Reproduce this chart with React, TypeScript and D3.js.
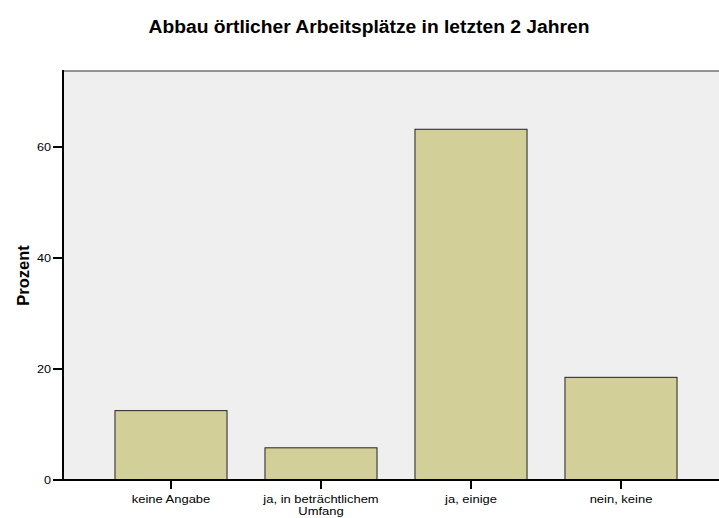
import React from "react";
import * as d3 from "d3";

const categories = ["keine Angabe", "ja, in beträchtlichem Umfang", "ja, einige", "nein, keine"];
const labelLines = [["keine Angabe"], ["ja, in beträchtlichem", "Umfang"], ["ja, einige"], ["nein, keine"]];
const values = [12.5, 5.8, 63.2, 18.5];
const yTicks = [0, 20, 40, 60];

export default function App() {
  const W = 719, H = 518;
  const left = 63, top = 71, bottom = 480, right = 719;
  const x = d3.scaleBand<string>().domain(categories).range([96, 696]).paddingInner(0.253).paddingOuter(0.1265);
  const y = d3.scaleLinear().domain([0, 73.7]).range([bottom, top]);
  const font = "Arial, 'Liberation Sans', sans-serif";
  return (
    <svg width={W} height={H} style={{ position: "absolute", left: 0, top: 0 }}>
      <rect x={0} y={0} width={W} height={H} fill="#fff" />
      <text transform="translate(369, 33) scale(1.07, 1)" textAnchor="middle" fontFamily={font} fontWeight="bold" fontSize={18}>
        Abbau örtlicher Arbeitsplätze in letzten 2 Jahren
      </text>
      <rect x={left} y={top} width={right - left} height={bottom - top} fill="#efefef" />
      <line x1={left} x2={right} y1={top} y2={top} stroke="#333" strokeWidth={1} />
      {categories.map((c, i) => (
        <rect key={c} x={x(c)} y={y(values[i])} width={x.bandwidth()} height={bottom - y(values[i])}
          fill="#d3cf99" stroke="#222" strokeWidth={1} />
      ))}
      <line x1={left} x2={left} y1={top - 1} y2={bottom + 1} stroke="#000" strokeWidth={2} />
      <line x1={left - 1} x2={right} y1={bottom} y2={bottom} stroke="#000" strokeWidth={2} />
      {yTicks.map(t => (
        <g key={t}>
          <line x1={left - 10} x2={left} y1={y(t)} y2={y(t)} stroke="#000" strokeWidth={2} />
          <text transform={`translate(${left - 12}, ${y(t) + 4}) scale(1.1, 1)`} textAnchor="end" fontFamily={font} fontSize={11.5}>{t}</text>
        </g>
      ))}
      {categories.map((c, i) => {
        const cx = (x(c) as number) + x.bandwidth() / 2;
        return (
          <g key={c}>
            <line x1={cx} x2={cx} y1={bottom} y2={bottom + 9} stroke="#000" strokeWidth={2} />
            {labelLines[i].map((l, j) => (
              <text key={j} transform={`translate(${cx}, ${bottom + 23 + j * 12}) scale(1.18, 1)`} textAnchor="middle" fontFamily={font} fontSize={11}>{l}</text>
            ))}
          </g>
        );
      })}
      <text transform={`translate(29, ${(top + bottom) / 2}) rotate(-90)`} textAnchor="middle"
        fontFamily={font} fontWeight="bold" fontSize={16.5}>Prozent</text>
    </svg>
  );
}
